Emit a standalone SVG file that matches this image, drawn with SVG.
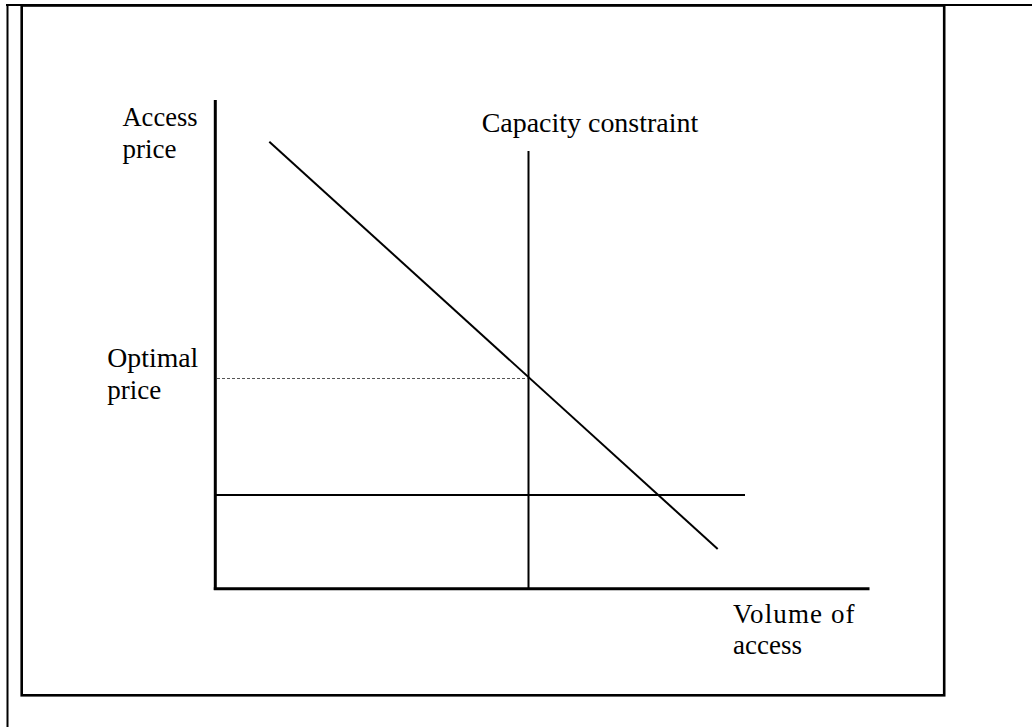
<svg xmlns="http://www.w3.org/2000/svg" width="1032" height="727" viewBox="0 0 1032 727">
  <style>
    .frame { fill: none; stroke: #000; }
    .axis { stroke: #000; stroke-width: 3; fill: none; }
    .line { stroke: #000; stroke-width: 2; fill: none; }
    .dot { stroke: #555; stroke-width: 1; stroke-dasharray: 3 2; fill: none; }
    .lbl { font-family: "Liberation Serif", "Times New Roman", serif; font-size: 27px; fill: #000; }
  </style>
  <rect width="1032" height="727" fill="#fff"/>
  <g id="table-border">
    <line class="frame" x1="6" y1="5" x2="1032" y2="5" stroke-width="2"/>
    <line class="frame" x1="7.5" y1="4" x2="7.5" y2="727" stroke-width="2"/>
  </g>
  <g id="figure-frame">
    <rect class="frame" x="21.7" y="5.5" width="922.5" height="689.8" stroke-width="2.6"/>
  </g>
  <g id="axes">
    <line class="axis" x1="215.3" y1="100" x2="215.3" y2="590"/>
    <line class="axis" x1="213.8" y1="588.7" x2="869.5" y2="588.7"/>
  </g>
  <g id="connectors">
    <line id="capacity-line" class="line" x1="528.5" y1="151" x2="528.5" y2="588"/>
    <line id="demand-line" class="line" x1="269.3" y1="141.7" x2="717.7" y2="549"/>
    <line id="cost-line" class="line" x1="215" y1="495" x2="745" y2="495"/>
    <line id="optimal-price-line" class="dot" x1="217" y1="378.5" x2="528" y2="378.5"/>
  </g>
  <g id="labels">
    <g id="label-access-price">
      <text class="lbl" x="122.5" y="126" textLength="75" lengthAdjust="spacingAndGlyphs">Access</text>
      <text class="lbl" x="122.5" y="158.3">price</text>
    </g>
    <g id="label-capacity">
      <text class="lbl" x="481.7" y="131.7" textLength="216.5" lengthAdjust="spacingAndGlyphs">Capacity constraint</text>
    </g>
    <g id="label-optimal-price">
      <text class="lbl" x="107.3" y="366.7" textLength="91" lengthAdjust="spacingAndGlyphs">Optimal</text>
      <text class="lbl" x="107.3" y="399.3">price</text>
    </g>
    <g id="label-volume">
      <text class="lbl" x="733" y="622.7" textLength="121.5" lengthAdjust="spacing">Volume of</text>
      <text class="lbl" x="733" y="654">access</text>
    </g>
  </g>
</svg>
